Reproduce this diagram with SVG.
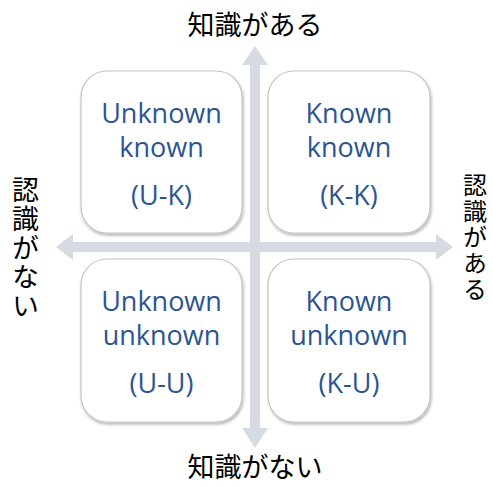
<svg xmlns="http://www.w3.org/2000/svg" width="493" height="487" viewBox="0 0 493 487">
<defs>
<filter id="sh" x="-10%" y="-10%" width="125%" height="125%">
<feDropShadow dx="1" dy="2" stdDeviation="1.5" flood-color="#000" flood-opacity="0.3"/>
</filter>
<style>
.box{fill:#fff;stroke:#c4c4c4;stroke-width:1.2;filter:url(#sh)}
.lbl{font-family:"Open Sans","Liberation Sans",sans-serif;font-size:27px;fill:#2c5590;text-anchor:middle}
.jp{font-family:"Noto Sans CJK JP",sans-serif;font-size:27px;fill:#000}
.vt{writing-mode:vertical-rl;text-orientation:upright;letter-spacing:2px}
.jps{font-size:24px}
.jpm{text-anchor:middle}
.arr{fill:#d6dae3}
</style>
</defs>
<rect width="493" height="487" fill="#fff"/>
<g id="connectors">
<polygon class="arr" points="255,46 268,65 260,65 260,428 268,428 255,448 242,428 250,428 250,65 242,65"/>
<polygon class="arr" points="56,247 73,234 73,242 436,242 436,234 453,247 436,260 436,252 73,252 73,260"/>
</g>
<g id="uk">
<rect class="box" x="81" y="71" width="161" height="162" rx="26"/>
<text class="lbl" x="161.5" y="123">Unknown</text>
<text class="lbl" x="161.5" y="157">known</text>
<text class="lbl" x="161.5" y="205">(U-K)</text>
</g>
<g id="kk">
<rect class="box" x="268" y="71" width="162" height="162" rx="26"/>
<text class="lbl" x="349" y="123">Known</text>
<text class="lbl" x="349" y="157">known</text>
<text class="lbl" x="349" y="205">(K-K)</text>
</g>
<g id="uu">
<rect class="box" x="81" y="259" width="161" height="163" rx="26"/>
<text class="lbl" x="161.5" y="311">Unknown</text>
<text class="lbl" x="161.5" y="345">unknown</text>
<text class="lbl" x="161.5" y="393">(U-U)</text>
</g>
<g id="ku">
<rect class="box" x="268" y="259" width="162" height="163" rx="26"/>
<text class="lbl" x="349" y="311">Known</text>
<text class="lbl" x="349" y="345">unknown</text>
<text class="lbl" x="349" y="393">(K-U)</text>
</g>
<g id="top-label"><text class="jp jpm" x="255" y="35">知識がある</text></g>
<g id="bottom-label"><text class="jp jpm" x="255" y="477">知識がない</text></g>
<g id="left-label"><text class="jp vt" x="25.5" y="176">認識がない</text></g>
<g id="right-label"><text class="jp jps vt" x="475" y="173">認識がある</text></g>
</svg>
